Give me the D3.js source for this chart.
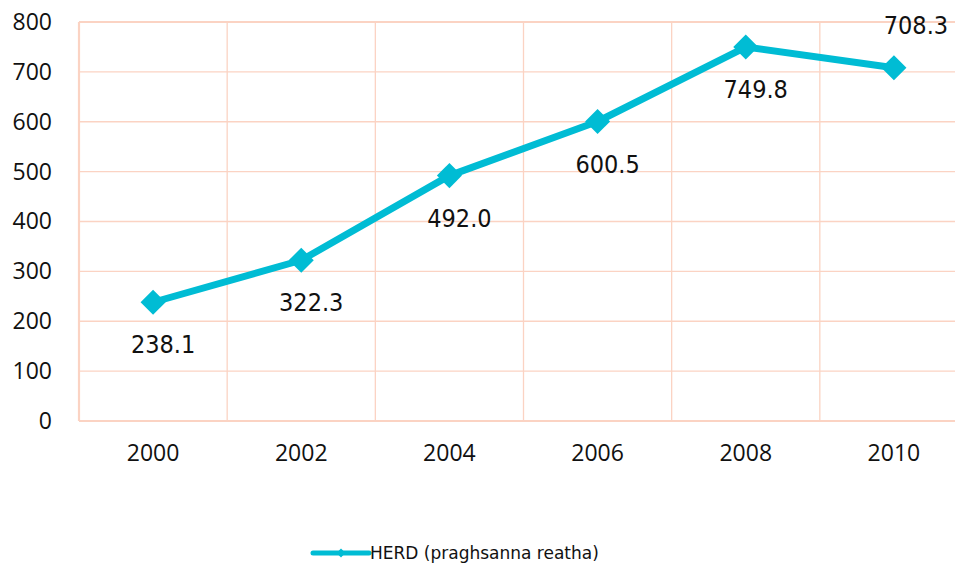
<!DOCTYPE html>
<meta charset="utf-8">
<style>
body { margin: 0; background: #fff; }
svg { display: block; }
.tick text { font-family: "Open Sans", sans-serif; font-size: 23px; fill: #111; }
.lbl { font-family: "DejaVu Sans Condensed", "DejaVu Sans", sans-serif; font-stretch: condensed; font-size: 25px; fill: #111; }
.legend text { font-family: "DejaVu Sans", sans-serif; font-size: 17px; fill: #111; }
</style>
<body>
<script src="https://d3js.org/d3.v7.min.js"></script>
<script>

// chart data
var years = ["2000", "2002", "2004", "2006", "2008", "2010"];
var herd = [238.1, 322.3, 492.0, 600.5, 749.8, 708.3];
var yTicks = [0, 100, 200, 300, 400, 500, 600, 700, 800];
var seriesName = "HERD (praghsanna reatha)";

var margin = {top: 22, left: 79},
    width = 889,   // plot runs past the right edge like the original
    height = 399;

var svg = d3.select("body").append("svg")
    .attr("width", 955)
    .attr("height", 566);

var g = svg.append("g")
    .attr("transform", "translate(" + margin.left + "," + margin.top + ")");

var x = d3.scaleBand().domain(years).range([0, width]);
var y = d3.scaleLinear().domain([0, 800]).range([height, 0]);

var gridCol = "#fbd3c3";

// horizontal grid
g.selectAll(".hgrid")
    .data(yTicks)
    .enter().append("line")
    .attr("x1", 0).attr("x2", width)
    .attr("y1", function(d) { return y(d); })
    .attr("y2", function(d) { return y(d); })
    .attr("stroke", gridCol)
    .attr("stroke-width", function(d) { return d === 0 || d === 800 ? 2.2 : 1.3; });

// vertical grid at band edges
g.selectAll(".vgrid")
    .data(years)
    .enter().append("line")
    .attr("x1", function(d) { return x(d); })
    .attr("x2", function(d) { return x(d); })
    .attr("y1", 0).attr("y2", height)
    .attr("stroke", gridCol)
    .attr("stroke-width", function(d, i) { return i === 0 ? 2.2 : 1.3; });

// y axis labels
var yAxis = g.append("g")
    .call(d3.axisLeft(y).tickValues(yTicks).tickSize(0).tickPadding(27));
yAxis.select(".domain").remove();

// x axis labels
var xAxis = g.append("g")
    .attr("transform", "translate(0," + height + ")")
    .call(d3.axisBottom(x).tickSize(0).tickPadding(24));
xAxis.select(".domain").remove();

var lineCol = "#00bcd4";
var cx = function(d, i) { return x(years[i]) + x.bandwidth() / 2; };

var line = d3.line()
    .x(cx)
    .y(function(d) { return y(d); });

g.append("path")
    .datum(herd)
    .attr("fill", "none")
    .attr("stroke", lineCol)
    .attr("stroke-width", 7)
    .attr("stroke-linejoin", "round")
    .attr("d", line);

var diamond = d3.symbol().type(d3.symbolDiamond2).size(400);
g.selectAll(".pt")
    .data(herd)
    .enter().append("path")
    .attr("fill", lineCol)
    .attr("transform", function(d, i) {
        return "translate(" + cx(d, i) + "," + y(d) + ")";
    })
    .attr("d", diamond);

// data labels (last one above)
g.selectAll(".lbl")
    .data(herd)
    .enter().append("text")
    .attr("class", "lbl")
    .attr("text-anchor", "middle")
    .attr("x", function(d, i) { return cx(d, i) + (i === herd.length - 1 ? 22 : 10); })
    .attr("y", function(d, i) { return y(d) + (i === herd.length - 1 ? -34 : 51); })
    .text(function(d) { return d.toFixed(1); });

// legend
var leg = svg.append("g").attr("class", "legend")
    .attr("transform", "translate(313,553)");
leg.append("line")
    .attr("x1", 0).attr("x2", 56)
    .attr("stroke", lineCol).attr("stroke-width", 5)
    .attr("stroke-linecap", "round");
leg.append("path")
    .attr("fill", lineCol)
    .attr("transform", "translate(28,0)")
    .attr("d", d3.symbol().type(d3.symbolDiamond2).size(50));
leg.append("text")
    .attr("x", 57).attr("y", 6)
    .text(seriesName);

</script>
</body>
